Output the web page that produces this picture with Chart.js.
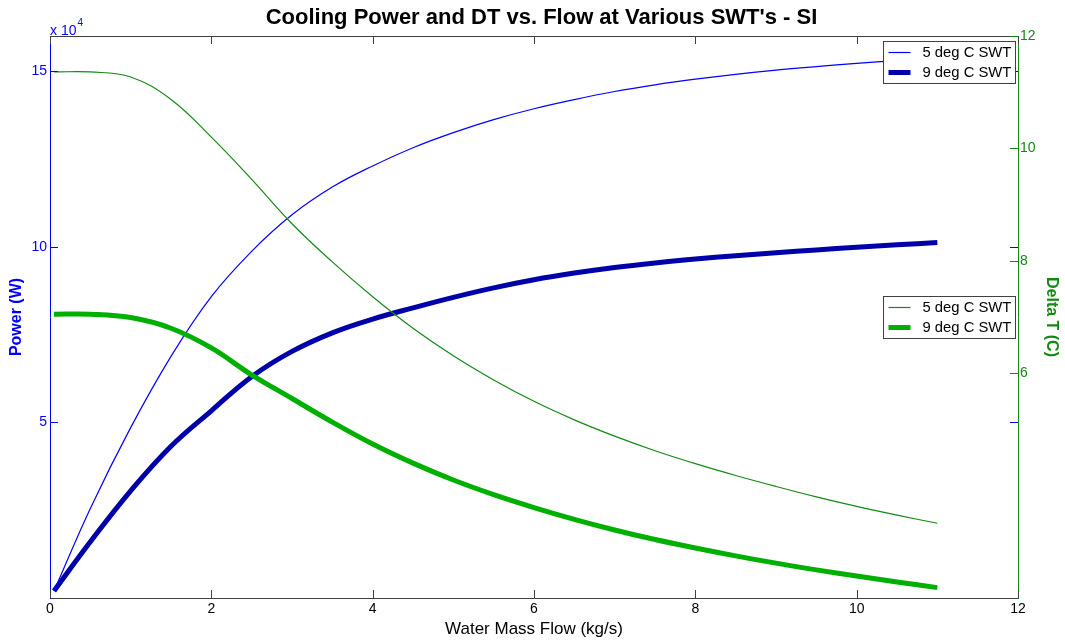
<!DOCTYPE html>
<html>
<head>
<meta charset="utf-8">
<title>Cooling Power and DT vs. Flow</title>
<script src="https://cdn.jsdelivr.net/npm/chart.js@4.4.1/dist/chart.umd.min.js"></script>
<style>
  html, body { margin: 0; padding: 0; background: #fff; }
  #wrap { width: 1065px; height: 641px; }
</style>
</head>
<body>
<div id="wrap"><canvas id="chart"></canvas></div>
<script>
// water mass flow (kg/s)
const flow = [0.05, 0.5, 1, 1.5, 2, 2.5, 3, 3.5, 4, 4.5, 5, 5.5, 6, 6.5, 7, 7.5, 8, 8.5, 9, 9.5, 10, 10.5, 11];

// cooling power (W)
const power5 = [2000, 25500, 48500, 68800, 85800, 98700, 109100, 117000, 123000, 128200, 132500, 136200,
  139300, 141900, 144200, 146100, 147700, 149100, 150300, 151300, 152200, 153000, 153700];
const power9 = [2000, 16000, 30500, 43200, 53300, 63000, 70200, 75500, 79400, 82600, 85600, 88300,
  90600, 92500, 94100, 95400, 96500, 97450, 98300, 99100, 99850, 100550, 101200];

// delta T (C)
const dt5 = [11.36, 11.36, 11.27, 10.87, 10.2, 9.45, 8.66, 7.98, 7.36, 6.8, 6.31, 5.88,
  5.5, 5.17, 4.88, 4.62, 4.39, 4.18, 3.985, 3.8, 3.63, 3.475, 3.33];
const dt9 = [7.05, 7.05, 6.99, 6.8, 6.45, 5.97, 5.55, 5.13, 4.74, 4.4, 4.1, 3.84,
  3.61, 3.4, 3.21, 3.04, 2.89, 2.75, 2.62, 2.5, 2.39, 2.285, 2.185];

const seriesNames = ['5 deg C SWT', '9 deg C SWT'];
const chartTitle = "Cooling Power and DT vs. Flow at Various SWT's - SI";

// axis ticks
const xTicks = [0, 2, 4, 6, 8, 10, 12];
const powerTicks = [50000, 100000, 150000];
const dtTicks = [6, 8, 10, 12];

const FONT = '"Liberation Sans", Arial, Helvetica, sans-serif';
const BLUE = '#0000ff';
const NAVY = '#0000aa';
const GREEN = '#138a13';
const LIME = '#00b000';
const FRAME = '#404040';

const toPoints = ys => flow.map((x, i) => ({ x: x, y: ys[i] }));

const setTicks = list => scale => { scale.ticks = list.map(v => ({ value: v })); };

// draws the title, MATLAB-like frame, inward ticks, exponent label and the two legends
const matlabAxes = {
  id: 'matlabAxes',
  afterDatasetsDraw(chart) {
    const { ctx, chartArea: a, scales } = chart;
    const seg = (x1, y1, x2, y2, color) => {
      ctx.strokeStyle = color;
      ctx.lineWidth = 1;
      ctx.beginPath();
      ctx.moveTo(x1, y1);
      ctx.lineTo(x2, y2);
      ctx.stroke();
    };
    ctx.save();

    // title
    ctx.fillStyle = '#000';
    ctx.font = 'bold 22px ' + FONT;
    ctx.textAlign = 'center';
    ctx.textBaseline = 'alphabetic';
    ctx.fillText(chartTitle, (a.left + a.right) / 2 + 7.5, 24);

    // top frame
    seg(a.left, Math.round(a.top) + 0.5, a.right, Math.round(a.top) + 0.5, FRAME);

    const len = 8;
    scales.x.ticks.forEach(t => {
      const px = Math.round(scales.x.getPixelForValue(t.value)) + 0.5;
      seg(px, a.bottom, px, a.bottom - len, FRAME);
      seg(px, a.top, px, a.top + len, FRAME);
    });
    scales.y.ticks.forEach(t => {
      const py = Math.round(scales.y.getPixelForValue(t.value)) + 0.5;
      seg(a.left, py, a.left + len, py, BLUE);
      seg(a.right, py, a.right - len, py, BLUE);
    });
    scales.y1.ticks.forEach(t => {
      const py = Math.round(scales.y1.getPixelForValue(t.value)) + 0.5;
      seg(a.right, py, a.right - len, py, GREEN);
    });

    // exponent of the power axis
    ctx.fillStyle = BLUE;
    ctx.textAlign = 'left';
    ctx.font = '14px ' + FONT;
    ctx.fillText('x 10', a.left, a.top - 1);
    const w = ctx.measureText('x 10').width;
    ctx.font = '10px ' + FONT;
    ctx.fillText('4', a.left + w + 1, a.top - 10);

    // legends
    const ds = chart.data.datasets;
    const drawLegend = (top, items) => {
      const bw = 132, bh = 42;
      const left = Math.round(a.right) - bw - 2.5;
      ctx.fillStyle = '#ffffff';
      ctx.fillRect(left, top, bw, bh);
      ctx.strokeStyle = FRAME;
      ctx.lineWidth = 1;
      ctx.strokeRect(left, top, bw, bh);
      items.forEach((d, i) => {
        const y = top + 11 + i * 20;
        ctx.strokeStyle = d.borderColor;
        ctx.lineWidth = d.borderWidth;
        ctx.beginPath();
        ctx.moveTo(left + 5, y);
        ctx.lineTo(left + 27, y);
        ctx.stroke();
        ctx.fillStyle = '#000';
        ctx.font = '14.8px ' + FONT;
        ctx.textBaseline = 'middle';
        ctx.fillText(d.label, left + 39, y);
      });
    };
    drawLegend(Math.round(a.top) + 5.5, [ds[0], ds[1]]);
    drawLegend(Math.round((a.top + a.bottom) / 2) - 20.5, [ds[2], ds[3]]);

    ctx.restore();
  }
};

const line = (label, ys, color, width, axis, order) => ({
  label: label,
  data: toPoints(ys),
  yAxisID: axis,
  borderColor: color,
  backgroundColor: color,
  borderWidth: width,
  pointRadius: 0,
  fill: false,
  tension: 0.4,
  order: order
});

new Chart(document.getElementById('chart'), {
  type: 'line',
  data: {
    datasets: [
      line(seriesNames[0], power5, BLUE, 1.2, 'y', 2),
      line(seriesNames[1], power9, NAVY, 5, 'y', 2),
      line(seriesNames[0], dt5, GREEN, 1.2, 'y1', 1),
      line(seriesNames[1], dt9, LIME, 5, 'y1', 1)
    ]
  },
  options: {
    responsive: true,
    maintainAspectRatio: false,
    animation: false,
    layout: { padding: { top: 36, left: 0, right: 0, bottom: 0 } },
    plugins: {
      legend: { display: false },
      tooltip: { enabled: false },
      title: { display: false }
    },
    scales: {
      x: {
        type: 'linear',
        min: 0,
        max: 12,
        afterBuildTicks: setTicks(xTicks),
        afterFit: s => { s.height = 43; },
        grid: { display: false, drawTicks: false },
        border: { display: true, color: FRAME, width: 1 },
        ticks: { color: '#000', padding: 3, font: { family: FONT, size: 14 } },
        title: {
          display: true,
          text: 'Water Mass Flow (kg/s)',
          color: '#000',
          font: { family: FONT, size: 17 },
          padding: { top: 0, bottom: 1.5 }
        }
      },
      y: {
        type: 'linear',
        position: 'left',
        min: 0,
        max: 160000,
        afterBuildTicks: setTicks(powerTicks),
        afterFit: s => { s.width = 50; },
        grid: { display: false, drawTicks: false },
        border: { display: true, color: BLUE, width: 1 },
        ticks: {
          color: BLUE,
          padding: 3,
          font: { family: FONT, size: 14 },
          callback: v => String(v / 10000)
        },
        title: {
          display: true,
          text: 'Power (W)',
          color: BLUE,
          font: { family: FONT, size: 16, weight: 'bold' },
          padding: { top: 7, bottom: 0 }
        }
      },
      y1: {
        type: 'linear',
        position: 'right',
        min: 2,
        max: 12,
        afterBuildTicks: setTicks(dtTicks),
        afterFit: s => { s.width = 47; },
        grid: { display: false, drawTicks: false },
        border: { display: true, color: GREEN, width: 1 },
        ticks: { color: GREEN, padding: 2, font: { family: FONT, size: 14 } },
        title: {
          display: true,
          text: 'Delta T (C)',
          color: GREEN,
          font: { family: FONT, size: 16, weight: 'bold' },
          padding: { top: 3.5, bottom: 0 }
        }
      }
    }
  },
  plugins: [matlabAxes]
});
</script>
</body>
</html>
